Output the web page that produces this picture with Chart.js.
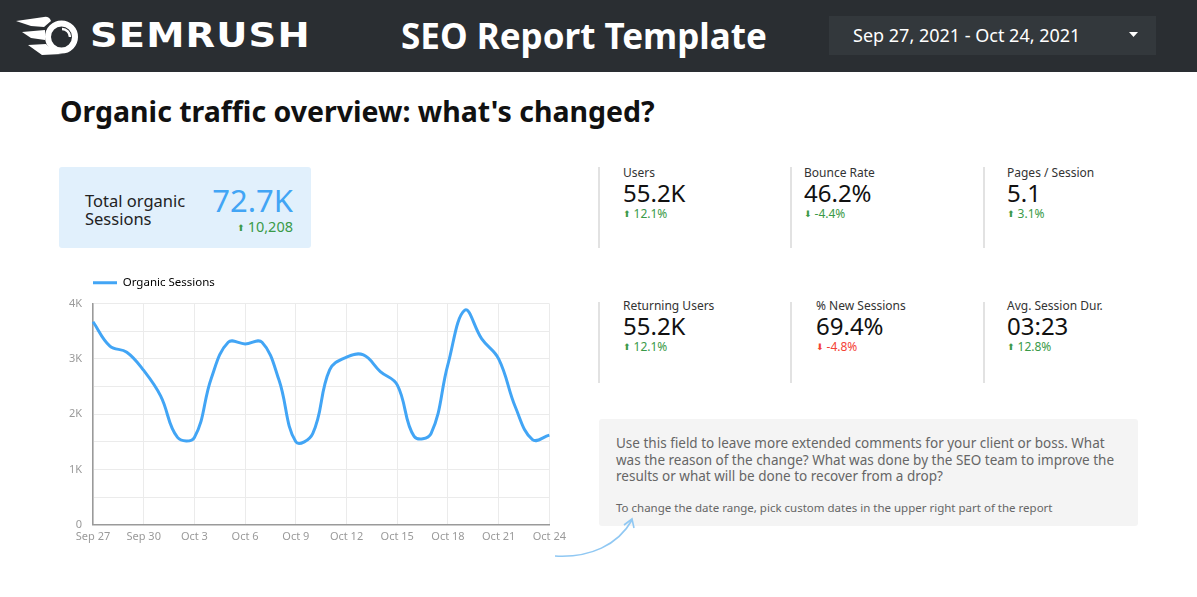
<!DOCTYPE html>
<html>
<head>
<meta charset="utf-8">
<script src="https://cdn.jsdelivr.net/npm/chart.js@4.4.0/dist/chart.umd.min.js"></script>
<style>
  html, body { margin:0; padding:0; background:#fff; }
  body { width:1197px; height:597px; position:relative; overflow:hidden; font-family:"Noto Sans", sans-serif; }
  .abs { position:absolute; white-space:nowrap; }
  #header { position:absolute; left:0; top:0; width:1197px; height:72px; background:#2a2e32; }
  #logoText { left:90px; top:15px; font-family:"DejaVu Sans"; font-weight:bold; font-size:34px; color:#fff; letter-spacing:1px; line-height:40px; transform:scaleX(1.13); transform-origin:0 50%; }
  #title { left:401px; top:12px; font-weight:bold; font-size:35px; color:#fff; line-height:48px; }
  #dateBox { position:absolute; left:829px; top:16px; width:327px; height:39px; background:#33383c; }
  #dateText { left:24px; top:7px; font-size:18px; color:#fff; line-height:24px; }
  #heading { left:60px; top:91px; font-weight:bold; font-size:28.5px; color:#111; line-height:40px; }
  #kpi { position:absolute; left:59px; top:167px; width:252px; height:81px; background:#e1f0fc; border-radius:3px; }
  .kpiLabel { left:26px; font-size:16.5px; color:#222; line-height:20px; }
  #kpiValue { right:18px; top:13px; font-size:31px; color:#42a5f5; line-height:40px; }
  #kpiDelta { right:18px; top:50px; font-size:14.5px; color:#3a9a48; line-height:18px; }
  .divider { position:absolute; width:2px; background:#e2e2e2; }
  .mLabel { font-size:12px; color:#333; line-height:16px; }
  .mValue { font-size:24px; color:#111; line-height:30px; }
  .mDelta { font-size:12px; color:#3a9a48; line-height:16px; }
  .mDelta.neg { color:#f44336; }
  .arr { font-size:9px; position:relative; top:-1px; margin-right:3px; font-family:"DejaVu Sans"; }
  #comment { position:absolute; left:599px; top:419px; width:539px; height:107px; background:#f4f4f4; border-radius:3px; }
  #commentText { left:17px; top:16px; font-size:13.5px; color:#666; line-height:16.5px; white-space:normal; width:510px; }
  #commentNote { left:17px; top:81px; font-size:11.5px; color:#666; line-height:16px; }
  #chartBox { position:absolute; left:55px; top:239px; width:516px; height:309px; }
</style>
</head>
<body>
<div id="header">
  <svg class="abs" style="left:0;top:0" width="90" height="72" viewBox="0 0 90 72">
    <path d="M16 21 L44 17 Q49 16 51 21 L44 27 L31 26 Z" fill="#fff"/>
    <path d="M22 32 L45 30 L45 40 L31 38 Z" fill="#fff"/>
    <path d="M28 45 L46 44 Q53 52 62 54 L42 55 Z" fill="#fff"/>
    <circle cx="61.5" cy="37" r="13.5" fill="none" stroke="#fff" stroke-width="6"/>
    <path d="M62 29 A8 8 0 0 1 70 37" fill="none" stroke="#fff" stroke-width="2.5"/>
  </svg>
  <div id="logoText" class="abs">SEMRUSH</div>
  <div id="title" class="abs">SEO Report Template</div>
  <div id="dateBox">
    <div id="dateText" class="abs">Sep 27, 2021 - Oct 24, 2021</div>
    <svg class="abs" style="left:300px;top:16px" width="10" height="6"><path d="M0 0 L9 0 L4.5 5 Z" fill="#fff"/></svg>
  </div>
</div>

<div id="heading" class="abs">Organic traffic overview: what's changed?</div>

<div id="kpi">
  <div class="abs kpiLabel" style="top:24px">Total organic</div>
  <div class="abs kpiLabel" style="top:42px">Sessions</div>
  <div id="kpiValue" class="abs">72.7K</div>
  <div id="kpiDelta" class="abs"><span class="arr">⬆</span>10,208</div>
</div>

<div id="metrics"></div>

<div id="comment">
  <div id="commentText" class="abs">Use this field to leave more extended comments for your client or boss. What was the reason of the change? What was done by the SEO team to improve the results or what will be done to recover from a drop?</div>
  <div id="commentNote" class="abs">To change the date range, pick custom dates in the upper right part of the report</div>
</div>

<svg class="abs" style="left:0;top:0;pointer-events:none" width="1197" height="597">
  <path d="M555 556 C 590 558, 618 545, 632 520" fill="none" stroke="#90c8f3" stroke-width="1.6"/>
  <path d="M624 525 L632 519 L634 528" fill="none" stroke="#90c8f3" stroke-width="1.6"/>
</svg>

<div id="chartBox"><canvas id="c"></canvas></div>

<script>
const days = ['Sep 27','Sep 28','Sep 29','Sep 30','Oct 1','Oct 2','Oct 3','Oct 4','Oct 5','Oct 6','Oct 7','Oct 8','Oct 9','Oct 10','Oct 11','Oct 12','Oct 13','Oct 14','Oct 15','Oct 16','Oct 17','Oct 18','Oct 19','Oct 20','Oct 21','Oct 22','Oct 23','Oct 24'];
const sessions = [3670,3230,3120,2790,2330,1580,1580,2650,3300,3270,3300,2620,1500,1650,2800,3030,3070,2770,2530,1600,1650,2900,3880,3360,3000,2120,1540,1620];
const yTickLabels = ['0','1K','2K','3K','4K'];
const seriesName = 'Organic Sessions';

const metricNames = ['Users','Bounce Rate','Pages / Session','Returning Users','% New Sessions','Avg. Session Dur.'];
const metricValues = ['55.2K','46.2%','5.1','55.2K','69.4%','03:23'];
const metricDeltas = ['12.1%','-4.4%','3.1%','12.1%','-4.8%','12.8%'];
const metricDeltaUp = [true,false,true,true,false,true];
const metricDeltaGood = [true,true,true,true,false,true];

// layout of metric cards
const colDivX = [598,790,983];
const colTextX = [[623,804,1007],[623,816,1007]];
const rowTop = [167,302];
const rowText = [165,298];
const mwrap = document.getElementById('metrics');
for (let r=0;r<2;r++){
  for (let c=0;c<3;c++){
    const i = r*3+c;
    const d = document.createElement('div'); d.className='divider';
    d.style.left=colDivX[c]+'px'; d.style.top=rowTop[r]+'px'; d.style.height='81px';
    mwrap.appendChild(d);
    const x = colTextX[r][c], t = rowText[r];
    const l = document.createElement('div'); l.className='abs mLabel'; l.textContent=metricNames[i];
    l.style.left=x+'px'; l.style.top=t+'px'; mwrap.appendChild(l);
    const v = document.createElement('div'); v.className='abs mValue'; v.textContent=metricValues[i];
    v.style.left=x+'px'; v.style.top=(t+13)+'px'; mwrap.appendChild(v);
    const dl = document.createElement('div'); dl.className='abs mDelta'+(metricDeltaGood[i]?'':' neg');
    dl.innerHTML='<span class="arr">'+(metricDeltaUp[i]?'⬆':'⬇')+'</span>'+metricDeltas[i];
    dl.style.left=x+'px'; dl.style.top=(t+41)+'px'; mwrap.appendChild(dl);
  }
}

const FONT = '"Noto Sans", sans-serif';
const legendGap = {
  id:'legendGap',
  afterInit(chart){
    const lg = chart.legend;
    if (lg && !lg._gapPatched){
      const orig = lg.fit;
      lg.fit = function(){ orig.call(this); this.height += 5; };
      lg._gapPatched = true;
    }
  }
};
new Chart(document.getElementById('c'), {
  type:'line',
  data:{ labels: days, datasets:[{ label: seriesName, data: sessions, borderColor:'#42a5f5', backgroundColor:'#42a5f5', borderWidth:3, pointRadius:0, tension:0.4, fill:false }]},
  options:{
    responsive:true, maintainAspectRatio:false, animation:false,
    layout:{ padding:{ left:0, right:6, top:0, bottom:0 } },
    plugins:{
      tooltip:{ enabled:false },
      legend:{ display:true, align:'start',
        labels:{ boxWidth:24, boxHeight:3, padding:38, color:'#444', font:{ size:11.5, family:FONT },
          generateLabels: (chart)=>[{ text: seriesName, fillStyle:'#42a5f5', strokeStyle:'#42a5f5', lineWidth:0, hidden:false, datasetIndex:0 }] } }
    },
    scales:{
      x:{ grid:{ color:'#ebebeb', drawTicks:false }, border:{ color:'#9a9a9a', width:1.5 },
          ticks:{ autoSkip:false, maxRotation:0, color:'#9a9a9a', padding:5, font:{ size:11, family:FONT },
                  callback:(v,i)=> i%3===0 ? days[i] : null } },
      y:{ min:0, max:4000, grid:{ color:'#ebebeb', drawTicks:false }, border:{ color:'#9a9a9a', width:1.5 },
          ticks:{ stepSize:500, color:'#9a9a9a', padding:11, font:{ size:11, family:FONT },
                  callback:(v)=> v%1000===0 ? yTickLabels[v/1000] : '' },
          afterFit:(s)=>{ s.width = 38; } }
    }
  },
  plugins:[legendGap]
});
</script>
</body>
</html>
